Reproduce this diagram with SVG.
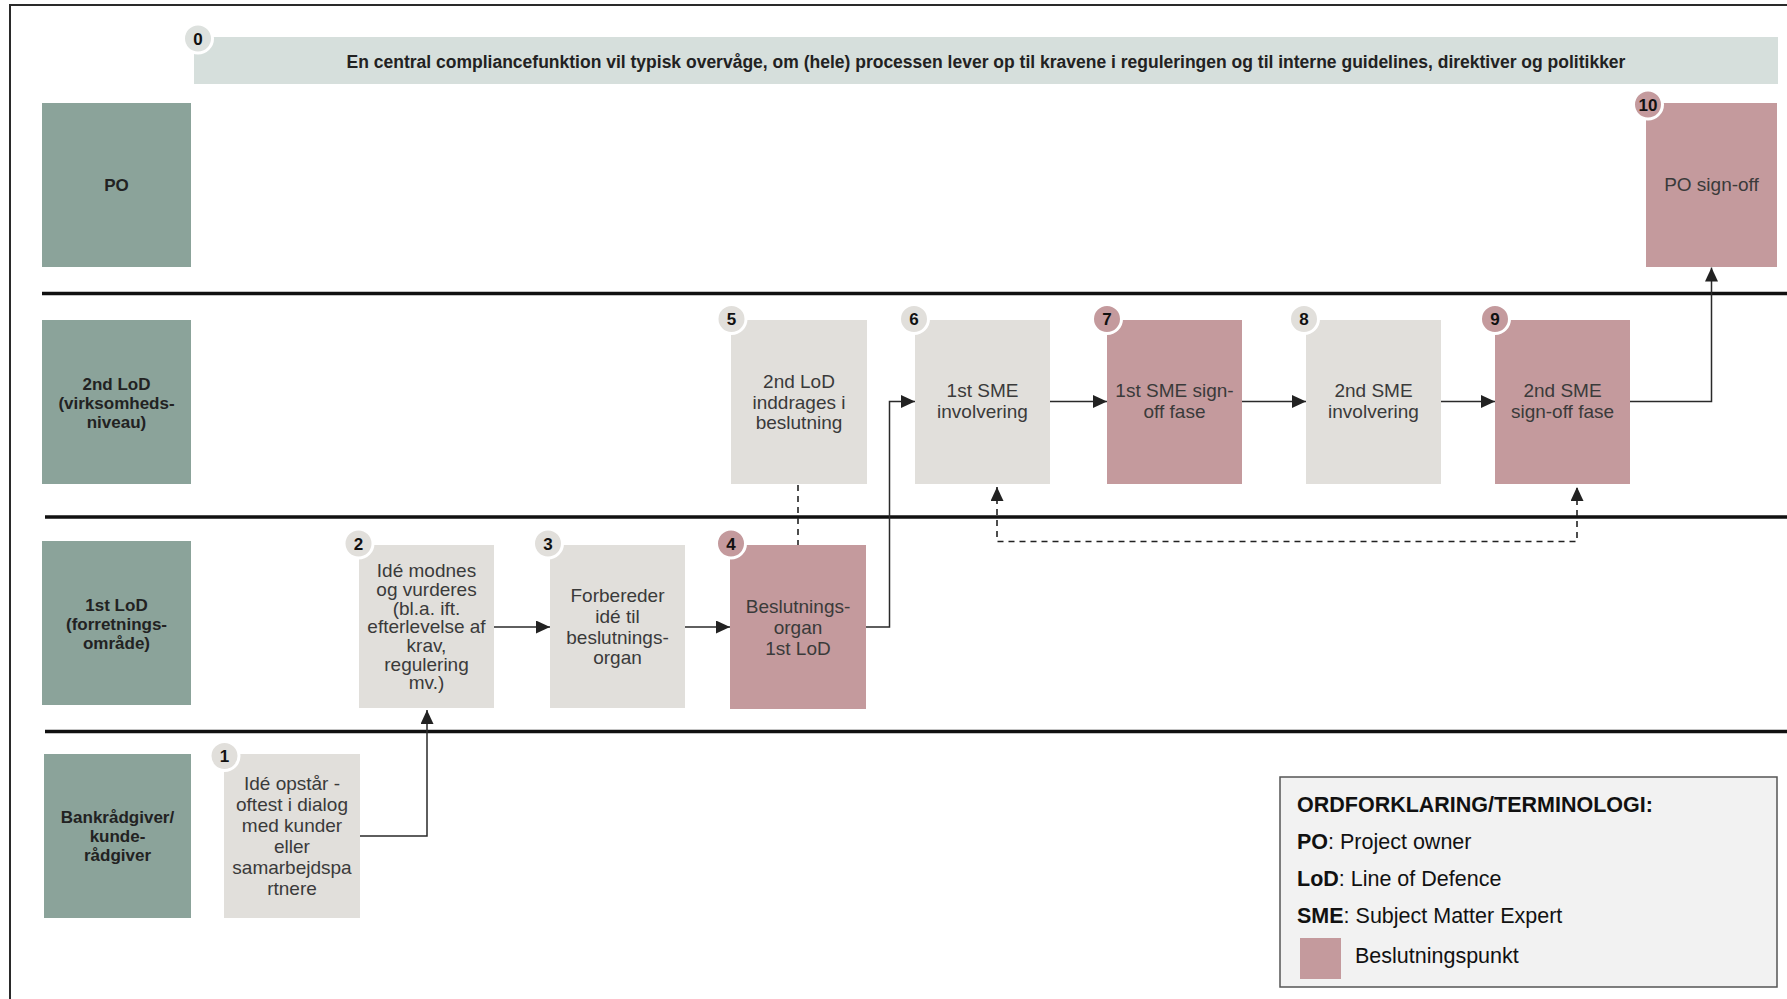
<svg xmlns="http://www.w3.org/2000/svg" width="1787" height="999" viewBox="0 0 1787 999">
<defs>
<marker id="ah" markerUnits="userSpaceOnUse" markerWidth="14" markerHeight="13" refX="14" refY="6.5" orient="auto-start-reverse"><path d="M0,0 L14,6.5 L0,13 z" fill="#222"/></marker>
<style>
.lane{fill:#8ba39a}
.lt{font-family:"Liberation Sans",Arial,sans-serif;font-weight:bold;font-size:17px;fill:#222;text-anchor:middle}
.g{fill:#e1dfdb}
.p{fill:#c49a9d}
.nt{font-family:"Liberation Sans",Arial,sans-serif;font-size:19px;fill:#3a3a3a;text-anchor:middle}
.num{font-family:"Liberation Sans",Arial,sans-serif;font-weight:bold;font-size:17px;fill:#111;text-anchor:middle}
.cg{fill:#e1dfdb;stroke:#fff;stroke-width:3}
.cp{fill:#c49a9d;stroke:#fff;stroke-width:3}
.sep{stroke:#111;stroke-width:3.5}
.con{fill:none;stroke:#2a2a2a;stroke-width:1.5}
.dash{fill:none;stroke:#222;stroke-width:1.6;stroke-dasharray:6 5}
.leg{font-family:"Liberation Sans",Arial,sans-serif;font-size:21.5px;fill:#111}
</style>
</defs>
<rect x="0" y="0" width="1787" height="999" fill="#fff"/>
<rect x="10" y="5" width="1800" height="1000" fill="none" stroke="#2a2a2a" stroke-width="2"/>

<g id="banner">
<rect x="194" y="37" width="1584" height="47" fill="#d6dfdc"/>
<text x="986" y="67.5" font-family="'Liberation Sans',Arial,sans-serif" font-weight="bold" font-size="17.5" fill="#222" text-anchor="middle">En central compliancefunktion vil typisk overvåge, om (hele) processen lever op til kravene i reguleringen og til interne guidelines, direktiver og politikker</text>
<circle cx="198" cy="38.5" r="14.5" fill="#dde1de" stroke="#fff" stroke-width="3"/>
<text class="num" x="198" y="44.5">0</text>
</g>

<g id="separators">
<line class="sep" x1="42" y1="293.5" x2="1787" y2="293.5"/>
<line class="sep" x1="45" y1="517" x2="1787" y2="517"/>
<line class="sep" x1="45" y1="731.5" x2="1787" y2="731.5"/>
</g>

<g id="lane-po"><rect class="lane" x="42" y="103" width="149" height="164"/><text class="lt" x="116.5" y="191">PO</text></g>
<g id="lane-2nd"><rect class="lane" x="42" y="320" width="149" height="164"/><text class="lt" x="116.5" y="389.5">2nd LoD</text><text class="lt" x="116.5" y="408.5">(virksomheds-</text><text class="lt" x="116.5" y="427.5">niveau)</text></g>
<g id="lane-1st"><rect class="lane" x="42" y="541" width="149" height="164"/><text class="lt" x="116.5" y="610.5">1st LoD</text><text class="lt" x="116.5" y="629.5">(forretnings-</text><text class="lt" x="116.5" y="648.5">område)</text></g>
<g id="lane-bank"><rect class="lane" x="44" y="754" width="147" height="164"/><text class="lt" x="117.5" y="823">Bankrådgiver/</text><text class="lt" x="117.5" y="842">kunde-</text><text class="lt" x="117.5" y="861">rådgiver</text></g>

<g id="connectors">
<path class="con" d="M360,836 H427 V710" marker-end="url(#ah)"/>
<path class="con" d="M494,627 H550" marker-end="url(#ah)"/>
<path class="con" d="M685,627 H730" marker-end="url(#ah)"/>
<path class="con" d="M866,627 H889.5 V401.5 H915" marker-end="url(#ah)"/>
<path class="con" d="M1050,401.5 H1107" marker-end="url(#ah)"/>
<path class="con" d="M1242,401.5 H1306" marker-end="url(#ah)"/>
<path class="con" d="M1441,401.5 H1495" marker-end="url(#ah)"/>
<path class="con" d="M1630,401.5 H1711.5 V267.5" marker-end="url(#ah)"/>
<path class="dash" d="M798,485 V545"/>
<path class="dash" d="M997,487 V541.5 H1577 V487" marker-start="url(#ah)" marker-end="url(#ah)"/>
</g>

<g id="n1"><rect class="g" x="224" y="754" width="136" height="164"/>
<text class="nt" x="292" y="790.3">Idé opstår -</text><text class="nt" x="292" y="811.3">oftest i dialog</text><text class="nt" x="292" y="832.3">med kunder</text><text class="nt" x="292" y="853.3">eller</text><text class="nt" x="292" y="874.3">samarbejdspa</text><text class="nt" x="292" y="895.3">rtnere</text>
<circle class="cg" cx="224.5" cy="756" r="14.5"/><text class="num" x="224.5" y="762">1</text></g>

<g id="n2"><rect class="g" x="359" y="545" width="135" height="163"/>
<text class="nt" x="426.5" y="577.2">Idé modnes</text><text class="nt" x="426.5" y="595.9">og vurderes</text><text class="nt" x="426.5" y="614.6">(bl.a. ift.</text><text class="nt" x="426.5" y="633.3">efterlevelse af</text><text class="nt" x="426.5" y="652">krav,</text><text class="nt" x="426.5" y="670.7">regulering</text><text class="nt" x="426.5" y="689.4">mv.)</text>
<circle class="cg" cx="358.5" cy="543.5" r="14.5"/><text class="num" x="358.5" y="549.5">2</text></g>

<g id="n3"><rect class="g" x="550" y="545" width="135" height="163"/>
<text class="nt" x="617.5" y="602">Forbereder</text><text class="nt" x="617.5" y="622.8">idé til</text><text class="nt" x="617.5" y="643.6">beslutnings-</text><text class="nt" x="617.5" y="664.4">organ</text>
<circle class="cg" cx="548" cy="543.5" r="14.5"/><text class="num" x="548" y="549.5">3</text></g>

<g id="n4"><rect class="p" x="730" y="545" width="136" height="164"/>
<text class="nt" x="798" y="612.8">Beslutnings-</text><text class="nt" x="798" y="633.8">organ</text><text class="nt" x="798" y="654.8">1st LoD</text>
<circle class="cp" cx="731" cy="543.5" r="14.5"/><text class="num" x="731" y="549.5">4</text></g>

<g id="n5"><rect class="g" x="731" y="320" width="136" height="164"/>
<text class="nt" x="799" y="387.5">2nd LoD</text><text class="nt" x="799" y="408.5">inddrages i</text><text class="nt" x="799" y="429">beslutning</text>
<circle class="cg" cx="731.5" cy="319" r="14.5"/><text class="num" x="731.5" y="325">5</text></g>

<g id="n6"><rect class="g" x="915" y="320" width="135" height="164"/>
<text class="nt" x="982.5" y="397">1st SME</text><text class="nt" x="982.5" y="418">involvering</text>
<circle class="cg" cx="914" cy="319" r="14.5"/><text class="num" x="914" y="325">6</text></g>

<g id="n7"><rect class="p" x="1107" y="320" width="135" height="164"/>
<text class="nt" x="1174.5" y="397">1st SME sign-</text><text class="nt" x="1174.5" y="418">off fase</text>
<circle class="cp" cx="1107" cy="319" r="14.5"/><text class="num" x="1107" y="325">7</text></g>

<g id="n8"><rect class="g" x="1306" y="320" width="135" height="164"/>
<text class="nt" x="1373.5" y="397">2nd SME</text><text class="nt" x="1373.5" y="418">involvering</text>
<circle class="cg" cx="1304" cy="319" r="14.5"/><text class="num" x="1304" y="325">8</text></g>

<g id="n9"><rect class="p" x="1495" y="320" width="135" height="164"/>
<text class="nt" x="1562.5" y="397">2nd SME</text><text class="nt" x="1562.5" y="418">sign-off fase</text>
<circle class="cp" cx="1495" cy="319" r="14.5"/><text class="num" x="1495" y="325">9</text></g>

<g id="n10"><rect class="p" x="1646" y="103" width="131" height="164"/>
<text class="nt" x="1711.5" y="191">PO sign-off</text>
<circle class="cp" cx="1648" cy="104.5" r="14.5"/><text class="num" x="1648" y="110.5">10</text></g>

<g id="legend">
<rect x="1280" y="777" width="497" height="210" fill="#f2f2f2" stroke="#555" stroke-width="1.5"/>
<text class="leg" x="1297" y="812" font-weight="bold" font-size="22.4">ORDFORKLARING/TERMINOLOGI:</text>
<text class="leg" x="1297" y="849"><tspan font-weight="bold">PO</tspan>: Project owner</text>
<text class="leg" x="1297" y="886"><tspan font-weight="bold">LoD</tspan>: Line of Defence</text>
<text class="leg" x="1297" y="923"><tspan font-weight="bold">SME</tspan>: Subject Matter Expert</text>
<rect class="p" x="1300" y="938" width="41" height="41"/>
<text class="leg" x="1355" y="963">Beslutningspunkt</text>
</g>
</svg>
